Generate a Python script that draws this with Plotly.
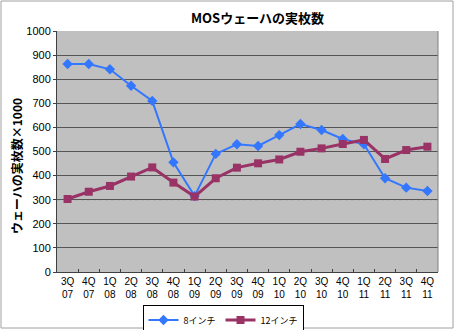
import plotly.graph_objects as go

quarters = ["3Q<br>07", "4Q<br>07", "1Q<br>08", "2Q<br>08", "3Q<br>08", "4Q<br>08",
            "1Q<br>09", "2Q<br>09", "3Q<br>09", "4Q<br>09", "1Q<br>10", "2Q<br>10",
            "3Q<br>10", "4Q<br>10", "1Q<br>11", "2Q<br>11", "3Q<br>11", "4Q<br>11"]
inch8 = [863, 863, 841, 773, 710, 455, 315, 490, 530, 523, 568, 614, 589, 552, 530, 389, 350, 336]
inch12 = [303, 333, 357, 396, 434, 371, 313, 389, 433, 451, 467, 499, 513, 531, 548, 469, 506, 520]
y_ticks = [0, 100, 200, 300, 400, 500, 600, 700, 800, 900, 1000]

FONT = "Noto Sans CJK JP"
NUMFONT = "Liberation Sans"

fig = go.Figure()
fig.add_trace(go.Scatter(
    x=quarters, y=inch8, name="8インチ", mode="lines+markers",
    line=dict(color="#3377FF", width=2),
    marker=dict(symbol="diamond", size=8, color="#3377FF"),
))
fig.add_trace(go.Scatter(
    x=quarters, y=inch12, name="12インチ", mode="lines+markers",
    line=dict(color="#993366", width=3),
    marker=dict(symbol="square", size=8, color="#993366"),
))

L, R, T, B = 57, 17, 31, 58
W, H = 455, 330
pw, ph = W - L - R, H - T - B

def px(x):
    return (x - L) / pw

def py(y):
    return (H - B - y) / ph

fig.update_layout(
    width=W, height=H,
    margin=dict(l=L, r=R, t=T, b=B, autoexpand=False),
    paper_bgcolor="white",
    plot_bgcolor="#C0C0C0",
    font=dict(family=FONT, size=10, color="black"),
    showlegend=True,
    legend=dict(
        orientation="h", x=px(223), xanchor="center", y=py(320), yanchor="middle",
        bgcolor="white", bordercolor="black", borderwidth=1,
        font=dict(size=9), itemwidth=30, tracegroupgap=0,
    ),
    xaxis=dict(
        type="category", range=[-0.5, 17.5], showgrid=False,
        showline=True, linecolor="#404040", linewidth=1,
        ticks="inside", ticklen=3, tickcolor="#404040", tickson="boundaries",
        tickfont=dict(size=10, family=NUMFONT), tickangle=0, automargin=False,
    ),
    yaxis=dict(
        range=[0, 1000], tickvals=y_ticks, showgrid=True, gridcolor="#555555", gridwidth=1,
        showline=True, linecolor="#404040", linewidth=1,
        ticks="outside", ticklen=3, tickcolor="#404040",
        tickfont=dict(size=11, family=NUMFONT), zeroline=False, automargin=False,
    ),
    shapes=[
        dict(type="line", xref="paper", yref="y", x0=0, x1=1, y0=300, y1=300,
             line=dict(color="#C0C0C0", width=2), layer="between"),
        dict(type="line", xref="paper", yref="y", x0=0, x1=1, y0=300, y1=300,
             line=dict(color="#888888", width=1, dash="dot"), layer="between"),
        dict(type="line", xref="paper", yref="paper", x0=1, x1=1, y0=0, y1=1,
             line=dict(color="#808080", width=1)),
        dict(type="rect", xref="paper", yref="paper",
             x0=px(1), x1=px(453), y0=py(328), y1=py(1),
             line=dict(color="#A0A0A0", width=1)),
    ],
    annotations=[
        dict(text="<b>MOSウェーハの実枚数</b>", xref="paper", yref="paper",
             x=px(257), y=py(18), xanchor="center", yanchor="middle",
             showarrow=False, font=dict(size=13)),
        dict(text="<b>ウェーハの実枚数×1000</b>", xref="paper", yref="paper",
             x=px(16), y=py(166), xanchor="center", yanchor="middle",
             textangle=-90, showarrow=False, font=dict(size=12)),
    ],
)

fig.write_html("out.html")
